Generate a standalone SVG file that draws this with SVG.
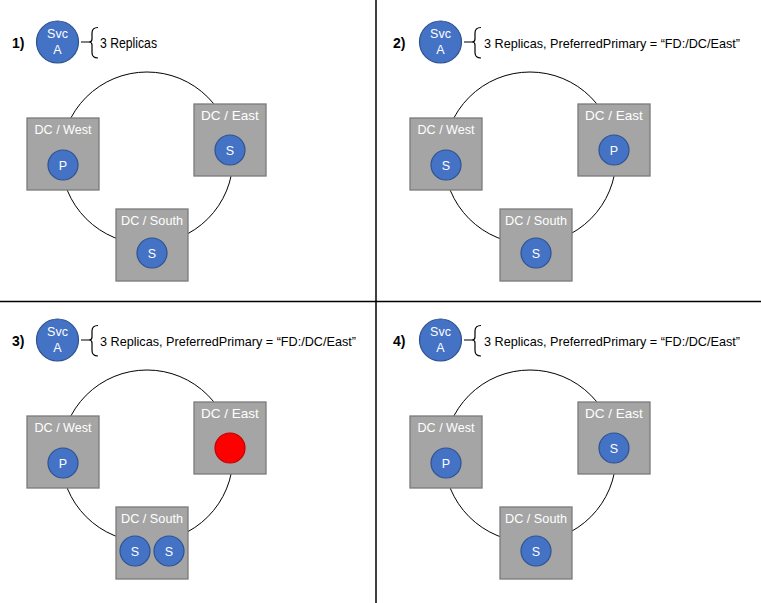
<svg xmlns="http://www.w3.org/2000/svg" width="761" height="603" viewBox="0 0 761 603">
<defs>
<style>
text{font-family:"Liberation Sans",Arial,sans-serif}
.bg{fill:#ffffff}
.div{stroke:#000;stroke-width:1.5;fill:none}
.ring{fill:none;stroke:#000;stroke-width:1}
.box{fill:#a5a5a5;stroke:#7a7a7a;stroke-width:1.3}
.rep{fill:#4472c4;stroke:#2f528f;stroke-width:1.2}
.fail{fill:#ff0000;stroke:#c00000;stroke-width:1.2}
.lbl{fill:#ffffff;font-size:13.5px;text-anchor:middle}
.rl{fill:#ffffff;font-size:12.5px;text-anchor:middle}
.num{fill:#000;font-size:14px;font-weight:bold}
.desc{fill:#000;font-size:14px}
.long{fill:#000;font-size:13px}
.brace{fill:none;stroke:#000;stroke-width:1.2}
</style>
</defs>
<rect class="bg" x="0" y="0" width="761" height="603"/>
<g id="dividers">
<line class="div" x1="376" y1="0" x2="376" y2="603"/>
<line class="div" x1="0" y1="301.5" x2="761" y2="301.5"/>
</g>

<!-- Panel 1 -->
<g id="panel1">
<text class="num" x="12" y="48">1)</text>
<g id="p1-svc"><circle class="rep" cx="57.5" cy="42" r="21"/><text class="rl" x="57.5" y="38">Svc</text><text class="rl" x="57.5" y="54">A</text></g>
<g id="p1-connectors"><path class="brace" d="M81,42 H89 M98,27.5 Q92,27.5 92,33 V39 Q92,42 89,42 Q92,42 92,45 V52.5 Q92,58 98,58"/>
<circle class="ring" cx="147" cy="158" r="86"/></g>
<text class="desc" x="100" y="47.5" textLength="57" lengthAdjust="spacingAndGlyphs">3 Replicas</text>
<g id="p1-west"><rect class="box" x="27" y="118" width="72" height="72"/><text class="lbl" x="63" y="134" textLength="57" lengthAdjust="spacingAndGlyphs">DC / West</text><circle class="rep" cx="63" cy="165" r="15"/><text class="rl" x="63" y="169.5">P</text></g>
<g id="p1-east"><rect class="box" x="194" y="104" width="72" height="72"/><text class="lbl" x="230" y="120">DC / East</text><circle class="rep" cx="230" cy="150" r="15"/><text class="rl" x="230" y="154.5">S</text></g>
<g id="p1-south"><rect class="box" x="116" y="209" width="72" height="72"/><text class="lbl" x="152" y="225" textLength="62" lengthAdjust="spacingAndGlyphs">DC / South</text><circle class="rep" cx="152" cy="253" r="15"/><text class="rl" x="152" y="257.5">S</text></g>
</g>

<!-- Panel 2 -->
<g id="panel2" transform="translate(383,0)">
<text class="num" x="10" y="48">2)</text>
<g id="p2-svc"><circle class="rep" cx="57.5" cy="42" r="21"/><text class="rl" x="57.5" y="38">Svc</text><text class="rl" x="57.5" y="54">A</text></g>
<g id="p2-connectors"><path class="brace" d="M81,42 H89 M98,27.5 Q92,27.5 92,33 V39 Q92,42 89,42 Q92,42 92,45 V52.5 Q92,58 98,58"/>
<circle class="ring" cx="147" cy="158" r="86"/></g>
<text class="long" x="101" y="47.5" textLength="256" lengthAdjust="spacingAndGlyphs">3 Replicas, PreferredPrimary = “FD:/DC/East”</text>
<g id="p2-west"><rect class="box" x="27" y="118" width="72" height="72"/><text class="lbl" x="63" y="134" textLength="57" lengthAdjust="spacingAndGlyphs">DC / West</text><circle class="rep" cx="63" cy="165" r="15"/><text class="rl" x="63" y="169.5">S</text></g>
<g id="p2-east"><rect class="box" x="195" y="104" width="72" height="72"/><text class="lbl" x="231" y="120">DC / East</text><circle class="rep" cx="231" cy="150" r="15"/><text class="rl" x="231" y="154.5">P</text></g>
<g id="p2-south"><rect class="box" x="117" y="209" width="72" height="72"/><text class="lbl" x="153" y="225" textLength="62" lengthAdjust="spacingAndGlyphs">DC / South</text><circle class="rep" cx="153" cy="253" r="15"/><text class="rl" x="153" y="257.5">S</text></g>
</g>

<!-- Panel 3 -->
<g id="panel3" transform="translate(0,298)">
<text class="num" x="12" y="48">3)</text>
<g id="p3-svc"><circle class="rep" cx="57.5" cy="42" r="21"/><text class="rl" x="57.5" y="38">Svc</text><text class="rl" x="57.5" y="54">A</text></g>
<g id="p3-connectors"><path class="brace" d="M81,42 H89 M98,27.5 Q92,27.5 92,33 V39 Q92,42 89,42 Q92,42 92,45 V52.5 Q92,58 98,58"/>
<circle class="ring" cx="147" cy="158" r="86"/></g>
<text class="long" x="100" y="47.5" textLength="256" lengthAdjust="spacingAndGlyphs">3 Replicas, PreferredPrimary = “FD:/DC/East”</text>
<g id="p3-west"><rect class="box" x="27" y="118" width="72" height="72"/><text class="lbl" x="63" y="134" textLength="57" lengthAdjust="spacingAndGlyphs">DC / West</text><circle class="rep" cx="63" cy="165" r="15"/><text class="rl" x="63" y="169.5">P</text></g>
<g id="p3-east"><rect class="box" x="194" y="104" width="72" height="72"/><text class="lbl" x="230" y="120">DC / East</text><circle class="fail" cx="230" cy="150" r="15"/></g>
<g id="p3-south"><rect class="box" x="116" y="209" width="72" height="72"/><text class="lbl" x="152" y="225" textLength="62" lengthAdjust="spacingAndGlyphs">DC / South</text><circle class="rep" cx="135" cy="253" r="15"/><text class="rl" x="135" y="257.5">S</text><circle class="rep" cx="169" cy="253" r="15"/><text class="rl" x="169" y="257.5">S</text></g>
</g>

<!-- Panel 4 -->
<g id="panel4" transform="translate(383,298)">
<text class="num" x="10" y="48">4)</text>
<g id="p4-svc"><circle class="rep" cx="57.5" cy="42" r="21"/><text class="rl" x="57.5" y="38">Svc</text><text class="rl" x="57.5" y="54">A</text></g>
<g id="p4-connectors"><path class="brace" d="M81,42 H89 M98,27.5 Q92,27.5 92,33 V39 Q92,42 89,42 Q92,42 92,45 V52.5 Q92,58 98,58"/>
<circle class="ring" cx="147" cy="158" r="86"/></g>
<text class="long" x="101" y="47.5" textLength="256" lengthAdjust="spacingAndGlyphs">3 Replicas, PreferredPrimary = “FD:/DC/East”</text>
<g id="p4-west"><rect class="box" x="27" y="118" width="72" height="72"/><text class="lbl" x="63" y="134" textLength="57" lengthAdjust="spacingAndGlyphs">DC / West</text><circle class="rep" cx="63" cy="165" r="15"/><text class="rl" x="63" y="169.5">P</text></g>
<g id="p4-east"><rect class="box" x="195" y="104" width="72" height="72"/><text class="lbl" x="231" y="120">DC / East</text><circle class="rep" cx="231" cy="150" r="15"/><text class="rl" x="231" y="154.5">S</text></g>
<g id="p4-south"><rect class="box" x="117" y="209" width="72" height="72"/><text class="lbl" x="153" y="225" textLength="62" lengthAdjust="spacingAndGlyphs">DC / South</text><circle class="rep" cx="153" cy="253" r="15"/><text class="rl" x="153" y="257.5">S</text></g>
</g>
</svg>
